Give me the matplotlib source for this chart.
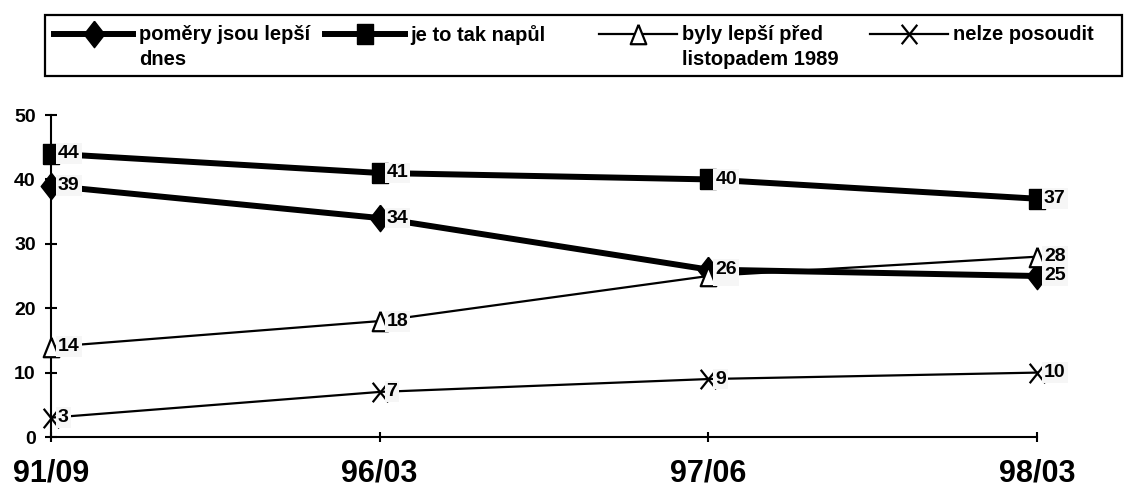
import numpy as np
import matplotlib
matplotlib.use('Agg')
import matplotlib.pyplot as plt
from matplotlib.lines import Line2D
from matplotlib.patches import Rectangle
from matplotlib.path import Path

plt.rcParams['font.family'] = ['Liberation Sans', 'DejaVu Sans']
plt.rcParams['font.weight'] = 'bold'

#%% data
periods = ['91/09', '96/03', '97/06', '98/03']
series_names = ['poměry jsou lepší\ndnes', 'je to tak napůl',
                'byly lepší před\nlistopadem 1989', 'nelze posoudit']
better_now = [39, 34, 26, 25]
half_half = [44, 41, 40, 37]
better_before = [14, 18, 25, 28]
cannot_say = [3, 7, 9, 10]
yticks = [0, 10, 20, 30, 40, 50]

#%% markers (slightly taller than wide, like the original)
diamond = [(0, 1), (0.78, 0), (0, -1), (-0.78, 0), (0, 1)]
rect = [(-0.76, -1), (0.76, -1), (0.76, 1), (-0.76, 1), (-0.76, -1)]
tri = [(0, 1), (0.8, -1), (-0.8, -1), (0, 1)]
cross = Path([(-0.8, -1), (0.8, 1), (-0.8, 1), (0.8, -1)],
             [Path.MOVETO, Path.LINETO, Path.MOVETO, Path.LINETO])

W, H = 1124, 488
styles = [
    dict(marker=diamond, ms=19, lw=4.3, mfc='black', mec='black', mew=1),
    dict(marker=rect, ms=15, lw=4.3, mfc='black', mec='black', mew=1),
    dict(marker=tri, ms=14, lw=1.6, mfc='white', mec='black', mew=1.6),
    dict(marker=cross, ms=14, lw=1.6, mfc='none', mec='black', mew=1.6),
]
values = [better_now, half_half, better_before, cannot_say]
label_z = [12, 11, 10, 10]  # diamond labels sit on top of triangle labels

fig = plt.figure(figsize=(W / 100, H / 100), dpi=100)
ax = fig.add_axes([51 / W, 1 - 437 / H, (1037 - 51) / W, (437 - 115) / H])

x = np.arange(len(periods))
for vals, st, z in zip(values, styles, label_z):
    ax.plot(x, vals, color='black', clip_on=False, zorder=3, **st)
    for xi, v in zip(x, vals):
        ax.annotate(str(v), (xi, v), xytext=(5, 0), textcoords='offset points',
                    ha='left', va='center', fontsize=14, fontweight='bold',
                    zorder=z,
                    bbox=dict(boxstyle='square,pad=0.1', fc='#f6f6f6', ec='none'))

ax.set_xlim(0, 3)
ax.set_ylim(0, 50)
ax.set_xticks(x)
ax.set_xticklabels(periods, fontsize=22, fontweight='bold')
ax.set_yticks(yticks)
ax.set_yticklabels([str(t) for t in yticks], fontsize=14, fontweight='bold')
for s in ['top', 'right']:
    ax.spines[s].set_visible(False)
for s in ['left', 'bottom']:
    ax.spines[s].set_linewidth(1.5)
ax.tick_params(axis='y', direction='inout', length=8, width=1.5, pad=7)
ax.tick_params(axis='x', direction='inout', length=7, width=1.5, pad=12)

#%% legend drawn by hand, in pixel coords
def fx(px):
    return px / W

def fy(py):
    return 1 - py / H

fig.add_artist(Rectangle((fx(45), fy(76)), fx(1122) - fx(45), fy(15) - fy(76),
                         fill=False, ec='black', lw=1.6, transform=fig.transFigure))
handle_x = [(54, 133), (325, 405), (599, 677), (870, 948)]
text_x = [139, 410, 682, 953]
for name, st, (h0, h1), tx in zip(series_names, styles, handle_x, text_x):
    fig.add_artist(Line2D([fx(h0), fx(h1)], [fy(34), fy(34)], color='black',
                          lw=st['lw'], transform=fig.transFigure))
    fig.add_artist(Line2D([fx((h0 + h1) / 2)], [fy(34)], color='black',
                          marker=st['marker'], ms=st['ms'], mfc=st['mfc'],
                          mec=st['mec'], mew=st['mew'], transform=fig.transFigure))
    fig.text(fx(tx), fy(25), name, ha='left', va='top', fontsize=14.5,
             fontweight='bold', linespacing=1.4)

fig.savefig('out.png', dpi=100)
